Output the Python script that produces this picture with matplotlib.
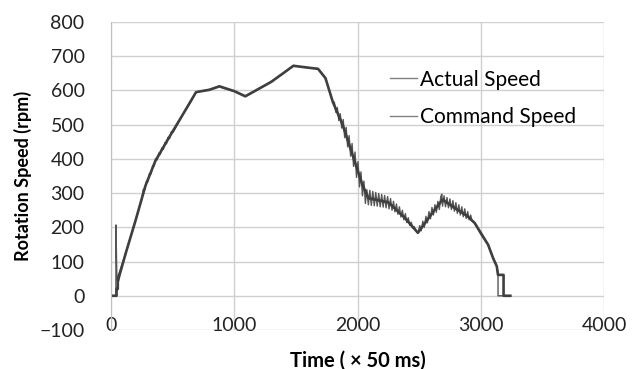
import matplotlib
matplotlib.use("Agg")
import matplotlib.pyplot as plt

# command speed (smooth reference profile)
cmd_t = [0, 45, 45, 55, 55, 65, 120, 200, 280, 360, 470, 580, 690, 800, 880,
         1000, 1090, 1300, 1480, 1680, 1740, 1800, 1880, 1960, 2040, 2090,
         2250, 2380, 2490, 2630, 2690, 2790, 2890, 2950, 3060, 3100, 3130,
         3140, 3140, 3185, 3185, 3240]
cmd_v = [0, 0, 20, 20, 40, 55, 125, 221, 322, 394, 462, 528, 595, 602, 612,
         598, 583, 625, 672, 663, 636, 566, 499, 411, 324, 285,
         273, 229, 184, 253, 281, 256, 233, 213, 149, 110, 86,
         61, 61, 61, 0, 0]

# actual speed (measured, with oscillation)
act_t = [0, 40, 40, 48, 60, 120, 200, 250,
         262, 275, 288, 300, 312, 325, 338, 350, 362, 375, 388, 400, 412, 425,
         438, 450, 462, 475, 490, 505,
         580, 640, 690, 800, 880, 900, 1000, 1090, 1200, 1300, 1400, 1480,
         1550, 1680, 1740, 1800,
         1812, 1824, 1836, 1848, 1860, 1872, 1884, 1896, 1908, 1920, 1932,
         1944, 1956, 1968, 1980, 1992, 2004, 2016, 2028, 2040, 2052, 2064,
         2076, 2088, 2100, 2112, 2124, 2136, 2148, 2160, 2172, 2184, 2196,
         2208, 2220, 2232, 2244, 2256, 2268, 2280, 2292, 2304, 2316, 2328,
         2340, 2352, 2364, 2376, 2388, 2400, 2412, 2424, 2436, 2448, 2460,
         2475, 2490,
         2505, 2517, 2530, 2542, 2555, 2567, 2580, 2592, 2604, 2616, 2628,
         2640, 2652, 2664, 2676, 2684, 2690, 2702, 2714, 2726, 2738, 2750,
         2762, 2774, 2786, 2798, 2810, 2822, 2834, 2846, 2858, 2870, 2882,
         2894, 2906, 2918, 2930, 2950,
         3000, 3058, 3100, 3130, 3140, 3140, 3240]
act_v = [0, 0, 207, 45, 60, 125, 221, 284,
         311, 311, 335, 334, 357, 356, 380, 379, 401, 397, 417, 413, 432, 428,
         448, 444, 463, 459, 480, 478,
         528, 562, 595, 603, 613, 608, 597, 582, 604, 626, 650, 673,
         668, 664, 636, 566,
         566, 536, 550, 512, 532, 490, 515, 462, 492, 435, 468,
         408, 445, 378, 420, 346, 392, 318, 362, 292, 335, 270,
         310, 266, 308, 264, 305, 263, 302, 262, 299, 260, 296,
         259, 293, 257, 290, 254, 284, 250, 276, 245, 268, 238,
         260, 230, 250, 222, 240, 214, 228, 206, 215, 198, 202,
         190, 183,
         205, 190, 218, 200, 232, 213, 246, 225, 258, 236, 266,
         244, 276, 252, 290, 297, 262, 292, 260, 287, 257, 283,
         252, 278, 247, 272, 241, 266, 236, 260, 231, 254, 226,
         246, 222, 236, 218, 213,
         180, 149, 112, 88, 62, 0, 0]

plt.rcParams['font.family'] = ['Lato', 'DejaVu Sans']

fig = plt.figure(figsize=(6.35, 3.69), dpi=100)
ax = fig.add_axes([0.1748, 0.1057, 0.7764, 0.8347])

ax.plot(act_t, act_v, color='#555555', linewidth=1.0, label='Actual Speed')
ax.plot(cmd_t, cmd_v, color='#3f3f3f', linewidth=1.9, label='Command Speed')

ax.set_xlim(0, 4000)
ax.set_ylim(-100, 800)
ax.set_xticks([0, 1000, 2000, 3000, 4000])
ax.set_yticks(range(-100, 801, 100))
ax.grid(True, color='#d0d0d0', linewidth=1.0)
ax.set_axisbelow(True)
for s in ['top', 'right', 'bottom']:
    ax.spines[s].set_visible(False)
ax.spines['left'].set_color('#bfbfbf')
ax.tick_params(axis='both', length=0, labelsize=14, colors='#222222')
ax.tick_params(axis='y', pad=19)
ax.tick_params(axis='x', pad=-9.5)

ax.set_xlabel('Time ( \u00d7 50 ms)', fontsize=14.5, fontweight='bold',
              labelpad=12)
ax.set_ylabel('Rotation Speed (rpm)', fontsize=13, fontweight='bold',
              labelpad=5)

leg = ax.legend(loc='upper left', bbox_to_anchor=(0.565, 0.845), frameon=False,
                fontsize=15, handlelength=1.3, handletextpad=0.15,
                labelspacing=0.85, borderpad=0, borderaxespad=0)
for h in leg.legend_handles:
    h.set_color('#808080')
    h.set_linewidth(1.0)

fig.savefig('out.png', dpi=100)
